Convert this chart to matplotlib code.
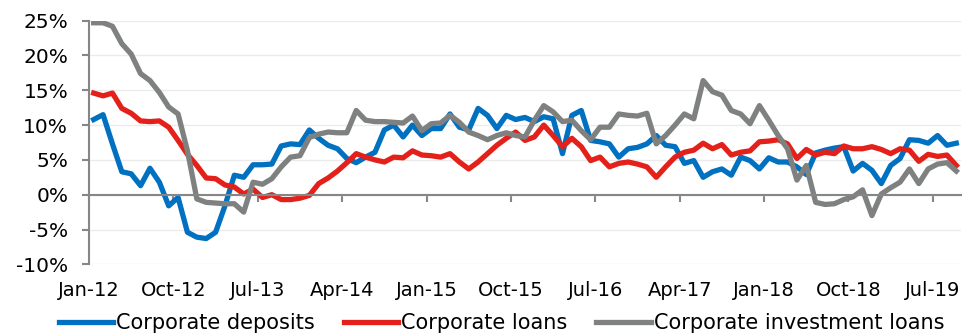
import numpy as np
import matplotlib.pyplot as plt

# monthly growth rates, Jan-12 .. Sep-19 (93 months)
deposits = [10.8, 11.5, 7.3, 3.3, 3.0, 1.3, 3.8, 1.8, -1.6, -0.4,
            -5.4, -6.1, -6.3, -5.4, -1.6, 2.8, 2.5, 4.3, 4.3, 4.4,
            7.0, 7.3, 7.2, 9.3, 8.1, 7.1, 6.6, 5.2, 4.6, 5.4,
            6.1, 9.3, 10.0, 8.3, 10.0, 8.5, 9.5, 9.5, 11.6, 9.7,
            9.3, 12.4, 11.4, 9.5, 11.4, 10.8, 11.1, 10.5, 11.2, 10.9,
            5.9, 11.4, 12.1, 7.8, 7.6, 7.3, 5.4, 6.6, 6.8, 7.3,
            8.5, 7.1, 6.9, 4.5, 4.9, 2.5, 3.3, 3.7, 2.8, 5.4,
            4.9, 3.7, 5.3, 4.7, 4.7, 4.0, 2.9, 6.0, 6.4, 6.7,
            6.9, 3.4, 4.5, 3.5, 1.6, 4.2, 5.2, 7.9, 7.8, 7.4,
            8.5, 7.1, 7.4]

loans = [14.6, 14.2, 14.6, 12.4, 11.7, 10.6, 10.5, 10.6, 9.7, 7.8,
         5.8, 4.2, 2.4, 2.3, 1.4, 1.1, 0.1, 0.8, -0.4, 0.0,
         -0.7, -0.7, -0.5, -0.1, 1.6, 2.4, 3.4, 4.6, 5.9, 5.4,
         5.0, 4.7, 5.4, 5.3, 6.3, 5.7, 5.6, 5.4, 5.9, 4.7,
         3.7, 4.7, 5.9, 7.1, 8.1, 9.0, 7.8, 8.3, 10.0, 8.5,
         6.9, 8.1, 6.9, 4.9, 5.4, 4.0, 4.5, 4.7, 4.4, 4.0,
         2.5, 4.0, 5.4, 6.1, 6.4, 7.4, 6.6, 7.2, 5.7, 6.1,
         6.3, 7.6, 7.7, 7.9, 7.3, 5.2, 6.5, 5.7, 6.1, 5.9,
         7.0, 6.6, 6.6, 6.9, 6.5, 5.9, 6.6, 6.4, 4.8, 5.8,
         5.5, 5.7, 4.2]

investment = [24.7, 24.7, 24.2, 21.7, 20.2, 17.4, 16.4, 14.7, 12.6, 11.6,
              6.3, -0.6, -1.1, -1.2, -1.3, -1.3, -2.5, 1.8, 1.5, 2.3,
              4.0, 5.4, 5.6, 8.2, 8.7, 9.0, 8.9, 8.9, 12.1, 10.7,
              10.5, 10.5, 10.4, 10.3, 11.3, 9.2, 10.2, 10.3, 11.4, 10.4,
              9.0, 8.5, 7.9, 8.5, 8.9, 8.5, 8.3, 10.7, 12.8, 11.9,
              10.5, 10.7, 9.2, 7.9, 9.7, 9.7, 11.6, 11.4, 11.3, 11.7,
              7.3, 8.5, 10.0, 11.6, 10.9, 16.4, 14.8, 14.3, 12.1, 11.6,
              10.2, 12.8, 10.7, 8.5, 6.6, 2.1, 4.2, -1.1, -1.4, -1.3,
              -0.7, -0.3, 0.7, -3.0, 0.1, 1.0, 1.8, 3.7, 1.6, 3.7,
              4.4, 4.6, 3.4]

tick_labels = ['Jan-12', 'Oct-12', 'Jul-13', 'Apr-14', 'Jan-15', 'Oct-15',
               'Jul-16', 'Apr-17', 'Jan-18', 'Oct-18', 'Jul-19']

series = [('Corporate deposits', deposits, '#0070C0'),
          ('Corporate loans', loans, '#E3211A'),
          ('Corporate investment loans', investment, '#7F8080')]

plt.rcParams['font.family'] = ['DejaVu Sans']
fig = plt.figure(figsize = (9.68, 3.35), dpi = 100)
ax = fig.add_axes([89/968, 1 - 264.3/335, 872/968, (264.3 - 20.7)/335])

for name, vals, col in series:
    x = np.arange(len(vals)) + 0.5
    ax.plot(x, vals, color = col, lw = 3.8, label = name, solid_joinstyle = 'round')

ax.set_xlim(0, 93)
ax.set_ylim(-10, 25)
ax.set_yticks(np.arange(-10, 26, 5))
ax.set_yticklabels([f'{v}%' for v in range(-10, 26, 5)], fontsize = 14.5)
ax.grid(axis = 'y', color = '#EBEBEB', lw = 1)
ax.set_axisbelow(True)

for s in ['top', 'right']:
    ax.spines[s].set_visible(False)
ax.spines['left'].set_color('#868686')
ax.spines['left'].set_linewidth(1.5)
ax.spines['bottom'].set_position(('data', 0))
ax.spines['bottom'].set_color('#868686')
ax.spines['bottom'].set_linewidth(1.5)
ax.tick_params(axis = 'y', direction = 'out', length = 5, width = 1.5, color = '#868686', pad = 10)

ax.set_xticks(np.arange(0, 91, 9))
ax.tick_params(axis = 'x', direction = 'out', length = 5, width = 1.5, color = '#868686', labelbottom = False)

sec = ax.secondary_xaxis('bottom')
sec.set_xticks(np.arange(0, 91, 9))
sec.set_xticklabels(tick_labels, fontsize = 14)
sec.tick_params(length = 0, pad = 12)
sec.spines['bottom'].set_visible(False)

fig.legend(loc = 'center', bbox_to_anchor = (0.518, 0.036), ncol = 3, frameon = False,
           fontsize = 15, handlelength = 2.6, handletextpad = 0.15, columnspacing = 1.4,
           borderaxespad = 0)

fig.savefig('out.png', dpi = 100)
